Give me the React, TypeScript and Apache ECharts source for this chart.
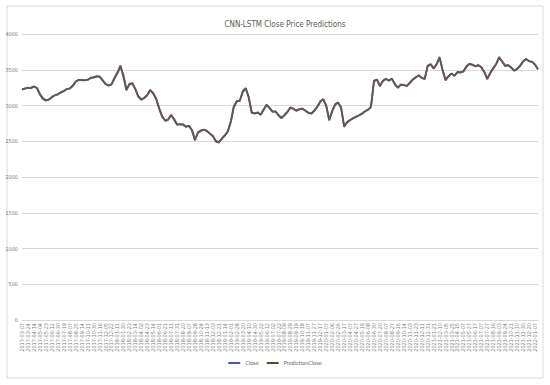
import React, { useEffect, useRef } from "react";
import * as echarts from "echarts";

const dates: string[] = [
  "2017-03-07","2017-03-16","2017-03-24","2017-04-05","2017-04-14","2017-04-25","2017-05-04","2017-05-15","2017-05-23","2017-06-02",
  "2017-06-12","2017-06-21","2017-06-30","2017-07-11","2017-07-19","2017-07-28","2017-08-07","2017-08-16","2017-08-25","2017-09-05",
  "2017-09-14","2017-09-25","2017-10-11","2017-10-20","2017-10-30","2017-11-08","2017-11-16","2017-11-27","2017-12-05","2017-12-14",
  "2017-12-22",
  "2018-01-03","2018-01-11","2018-01-22","2018-01-30","2018-02-08","2018-02-23","2018-03-06","2018-03-14","2018-03-23","2018-04-02",
  "2018-04-13","2018-04-23","2018-05-03","2018-05-14","2018-05-23","2018-06-01","2018-06-12","2018-06-21","2018-07-02","2018-07-11",
  "2018-07-20","2018-07-31","2018-08-09","2018-08-20","2018-08-29","2018-09-07","2018-09-18","2018-09-28","2018-10-15","2018-10-24",
  "2018-11-02","2018-11-13","2018-11-22","2018-12-03","2018-12-12","2018-12-21",
  "2019-01-03","2019-01-14","2019-01-23","2019-02-01","2019-02-19","2019-02-28","2019-03-11","2019-03-20","2019-03-29","2019-04-10",
  "2019-04-19","2019-04-30","2019-05-13","2019-05-22","2019-05-31","2019-06-12","2019-06-21","2019-07-02","2019-07-11","2019-07-22",
  "2019-07-31","2019-08-09","2019-08-20","2019-08-29","2019-09-09","2019-09-19","2019-09-30","2019-10-18","2019-10-29","2019-11-07",
  "2019-11-18","2019-11-27","2019-12-06","2019-12-17","2019-12-26",
  "2020-01-07","2020-01-16","2020-02-06","2020-02-17","2020-02-26","2020-03-06","2020-03-17","2020-03-26","2020-04-07","2020-04-16",
  "2020-04-27","2020-05-08","2020-05-19","2020-05-28","2020-06-08","2020-06-17","2020-06-30","2020-07-09","2020-07-20","2020-07-29",
  "2020-08-07","2020-08-18","2020-08-27","2020-09-07","2020-09-16","2020-09-25","2020-10-14","2020-10-23","2020-11-03","2020-11-12",
  "2020-11-23","2020-12-02","2020-12-11","2020-12-22","2020-12-31",
  "2021-01-12","2021-01-21","2021-02-01","2021-02-10","2021-02-24","2021-03-05","2021-03-16","2021-03-25","2021-04-06","2021-04-15",
  "2021-04-26","2021-05-07","2021-05-18","2021-05-27","2021-06-07","2021-06-17","2021-06-28","2021-07-07","2021-07-16","2021-07-27",
  "2021-08-05","2021-08-16","2021-08-25","2021-09-03","2021-09-14","2021-09-24","2021-10-12","2021-10-21","2021-11-01","2021-11-10",
  "2021-11-19","2021-11-30","2021-12-09","2021-12-20","2021-12-29",
  "2022-01-07","2022-01-14",
];

const closeValues: number[] = [
  3230,3235,3250,3243,3270,3240,3150,3090,3068,3085,
  3120,3140,3160,3180,3205,3228,3240,3280,3338,3355,
  3360,3350,3362,3382,3396,3412,3400,3350,3298,3282,
  3300,3390,3465,3560,3400,3210,3305,3308,3225,3120,
  3078,3110,3150,3220,3165,3085,2950,2840,2790,2800,
  2870,2800,2730,2740,2730,2700,2720,2648,2510,2630,
  2652,2658,2648,2602,2578,2495,2480,2540,2585,2640,
  2780,2990,3065,3060,3200,3245,3110,2895,2893,2898,
  2875,2945,3015,2960,2910,2920,2860,2820,2870,2915,
  2975,2950,2932,2950,2953,2925,2895,2890,2930,2985,
  3060,3090,2990,2790,2930,3020,3045,2960,2700,2770,
  2800,2820,2845,2860,2890,2915,2943,2985,3350,3360,
  3267,3350,3370,3345,3380,3295,3245,3295,3285,3275,
  3320,3365,3390,3425,3385,3372,3560,3580,3515,3580,
  3680,3490,3350,3415,3450,3412,3470,3460,3480,3550,
  3585,3568,3550,3568,3530,3465,3365,3460,3525,3585,
  3680,3610,3550,3568,3528,3485,3515,3560,3620,3655,
  3617,3615,3570,3505,
];

const predictionValues: number[] = [
  3222,3240,3244,3250,3262,3248,3165,3100,3075,3080,
  3112,3145,3152,3186,3198,3232,3236,3268,3330,3362,
  3352,3356,3358,3388,3390,3405,3408,3360,3305,3276,
  3292,3375,3450,3545,3430,3225,3290,3315,3232,3132,
  3085,3102,3142,3210,3175,3095,2965,2852,2785,2808,
  2860,2812,2738,2735,2738,2708,2712,2660,2525,2618,
  2645,2665,2640,2610,2570,2505,2488,2532,2578,2632,
  2765,2970,3055,3068,3185,3238,3125,2910,2885,2905,
  2868,2938,3005,2968,2918,2912,2868,2828,2862,2908,
  2968,2958,2925,2945,2960,2930,2902,2885,2922,2978,
  3050,3085,3005,2805,2915,3012,3040,2972,2715,2762,
  2792,2825,2838,2865,2882,2920,2938,2978,3330,3365,
  3280,3340,3375,3350,3372,3305,3252,3288,3290,3270,
  3312,3358,3395,3418,3392,3368,3545,3575,3522,3572,
  3665,3505,3362,3405,3445,3420,3462,3465,3475,3540,
  3578,3572,3545,3562,3538,3472,3380,3452,3518,3578,
  3668,3618,3558,3562,3535,3490,3508,3552,3612,3648,
  3622,3610,3575,3512,
];

const yTicks = { min: 0, max: 4000, interval: 500 };

const FONT = "'Liberation Sans Narrow', 'DejaVu Sans Condensed', 'Liberation Sans', sans-serif";

export default function App() {
  const ref = useRef<HTMLDivElement>(null);
  useEffect(() => {
    if (!ref.current) return;
    const chart = echarts.init(ref.current, undefined, { renderer: "svg" });
    chart.setOption({
      animation: false,
      backgroundColor: "#ffffff",
      textStyle: { fontFamily: FONT },
      title: {
        text: "CNN-LSTM Close Price Predictions",
        left: 280,
        textAlign: "center",
        top: 15,
        textStyle: { fontSize: 8, fontWeight: "normal", color: "#595959", fontFamily: FONT },
      },
      graphic: [
        {
          type: "rect",
          shape: { x: 7, y: 6, width: 536, height: 372 },
          style: { fill: "none", stroke: "#d9d9d9", lineWidth: 1 },
          silent: true,
        },
      ],
      legend: {
        bottom: 14,
        left: "center",
        itemWidth: 12,
        itemHeight: 2,
        itemGap: 8,
        icon: "rect",
        textStyle: { fontSize: 5.5, color: "#595959", fontFamily: FONT },
        data: ["Close", "PredictionClose"],
      },
      grid: { left: 22, right: 12, top: 34, bottom: 65 },
      xAxis: {
        type: "category",
        data: dates,
        boundaryGap: false,
        axisLine: { lineStyle: { color: "#d9d9d9" } },
        axisTick: { show: false },
        axisLabel: {
          interval: 1,
          rotate: 90,
          fontSize: 5.5,
          color: "#808080",
          margin: 3,
          fontFamily: FONT,
        },
      },
      yAxis: {
        type: "value",
        min: yTicks.min,
        max: yTicks.max,
        interval: yTicks.interval,
        axisLine: { show: false },
        axisTick: { show: false },
        splitLine: { lineStyle: { color: "#d9d9d9", width: 1 } },
        axisLabel: {
          fontSize: 5.5,
          color: "#808080",
          margin: 4,
          fontFamily: FONT,
          formatter: (v: number) => String(v),
        },
      },
      series: [
        {
          name: "Close",
          type: "line",
          data: closeValues,
          showSymbol: false,
          symbol: "none",
          lineStyle: { color: "#4a5aa8", width: 1.8 },
          itemStyle: { color: "#4a5aa8" },
        },
        {
          name: "PredictionClose",
          type: "line",
          data: predictionValues,
          showSymbol: false,
          symbol: "none",
          lineStyle: { color: "#6b5546", width: 1.8 },
          itemStyle: { color: "#5c4a2a" },
        },
      ],
    });
    return () => chart.dispose();
  }, []);
  return (
    <div style={{ position: "fixed", left: 0, top: 0, width: 550, height: 385 }}>
      <div ref={ref} style={{ width: 550, height: 385 }} />
    </div>
  );
}
